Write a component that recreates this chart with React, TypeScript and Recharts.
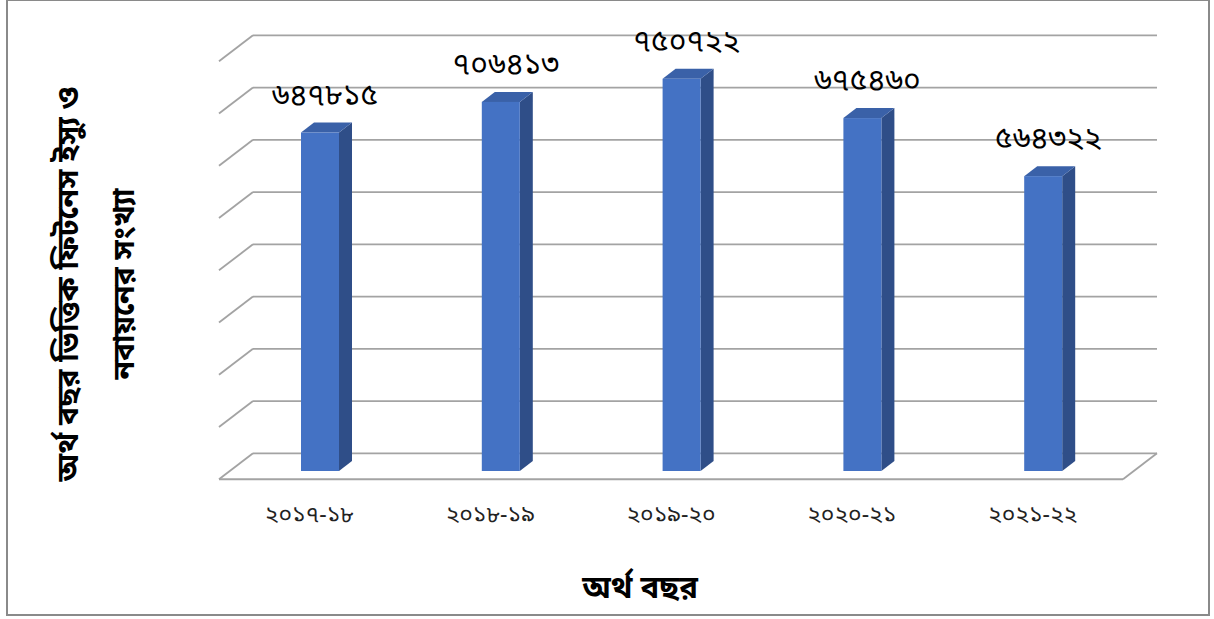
import React from 'react';
import { BarChart, Bar, XAxis, YAxis, CartesianGrid, LabelList } from 'recharts';

const categories = ['২০১৭-১৮', '২০১৮-১৯', '২০১৯-২০', '২০২০-২১', '২০২১-২২'];
const values = [647815, 706413, 750722, 675460, 564322];
const yTicks = [0, 100000, 200000, 300000, 400000, 500000, 600000, 700000, 800000];
const xTitle = 'অর্থ বছর';
const yTitleLine1 = 'অর্থ বছর ভিত্তিক ফিটনেস ইস্যু ও';
const yTitleLine2 = 'নবায়নের সংখ্যা';

const data = categories.map((c, i) => ({ name: c, value: values[i] }));

const W = 1214;
const H = 619;
const MARGIN = { top: 53, right: 80, bottom: 88, left: 230 };
const XAXIS_H = 60;
const PLOT_BOTTOM = H - MARGIN.bottom - XAXIS_H;

const BACK_DX = 23;
const BACK_DY = -17.7;
const FRONT_DX = -11;
const FRONT_DY = 8.3;
const GRID = '#a3a3a3';
const FONT = '"Noto Sans Bengali", "Lohit Bengali", "Noto Serif Bengali", "Vrinda", sans-serif';

const bn = (n: number) => String(n).replace(/[0-9]/g, (d) => '০১২৩৪৫৬৭৮৯'[Number(d)]);

const GridLine = (props: any) => {
  const { x1, x2, y1 } = props;
  const bx1 = x1 + BACK_DX, bx2 = x2 + BACK_DX, by = y1 + BACK_DY;
  const fx1 = x1 + FRONT_DX, fx2 = x2 + FRONT_DX, fy = y1 + FRONT_DY;
  const isBottom = Math.abs(y1 - PLOT_BOTTOM) < 1;
  return (
    <g key={props.key}>
      <line x1={bx1} y1={by} x2={bx2} y2={by} stroke={GRID} strokeWidth={1.8} />
      <line x1={bx1} y1={by} x2={fx1} y2={fy} stroke={GRID} strokeWidth={1.8} />
      {isBottom && (
        <>
          <line x1={fx1} y1={fy} x2={fx2} y2={fy} stroke={GRID} strokeWidth={2} />
          <line x1={bx2} y1={by} x2={fx2} y2={fy} stroke={GRID} strokeWidth={1.8} />
        </>
      )}
    </g>
  );
};

const Bar3D = (props: any) => {
  const { x, y, width, height } = props;
  const dx = 13, dy = -10;
  return (
    <g>
      <polygon
        points={`${x + width},${y} ${x + width + dx},${y + dy} ${x + width + dx},${y + height + dy} ${x + width},${y + height}`}
        fill="#2F4E88"
      />
      <polygon
        points={`${x},${y} ${x + dx},${y + dy} ${x + width + dx},${y + dy} ${x + width},${y}`}
        fill="#3A61A8"
      />
      <rect x={x} y={y} width={width} height={height} fill="#4472C4" />
    </g>
  );
};

const ValueLabel = (props: any) => {
  const { x, y, width, value } = props;
  return (
    <text x={x + width / 2 + 5} y={y - 36} textAnchor="middle" dominantBaseline="central"
      fontFamily={FONT} fontSize={30} fill="#000">
      {bn(value)}
    </text>
  );
};

const Tick = (props: any) => {
  const { x, y, payload } = props;
  return (
    <text x={x - 11} y={y + 37} textAnchor="middle" dominantBaseline="central"
      fontFamily={FONT} fontSize={23} fill="#222">
      {payload.value}
    </text>
  );
};

export default function App() {
  return (
    <div style={{ position: 'absolute', left: 0, top: 0, width: W, height: H, background: '#fff' }}>
      <div style={{ position: 'absolute', left: 6, top: -1, width: 1204, height: 617, borderLeft: '2px solid #8a8a8a', borderRight: '2px solid #8a8a8a', borderBottom: '2px solid #8a8a8a', borderTop: '2px solid #8a8a8a', boxSizing: 'border-box' }} />
      <BarChart width={W} height={H} data={data} margin={MARGIN} barCategoryGap={0}>
        <CartesianGrid vertical={false} horizontal={GridLine} stroke={GRID} />
        <XAxis dataKey="name" axisLine={false} tickLine={false} height={XAXIS_H} tick={Tick} interval={0} />
        <YAxis hide domain={[0, 800000]} ticks={yTicks} />
        <Bar dataKey="value" barSize={38} shape={Bar3D} isAnimationActive={false}>
          <LabelList dataKey="value" content={ValueLabel} />
        </Bar>
      </BarChart>
      <svg width={W} height={H} style={{ position: 'absolute', left: 0, top: 0, pointerEvents: 'none' }}>
        <text x={640} y={590} textAnchor="middle" dominantBaseline="central" fontFamily={FONT}
          fontSize={31} fontWeight="bold" fill="#000">{xTitle}</text>
        <text transform="translate(70,284) rotate(-90)" textAnchor="middle" dominantBaseline="central"
          fontFamily={FONT} fontSize={30} fontWeight="bold" fill="#000">{yTitleLine1}</text>
        <text transform="translate(126,284) rotate(-90)" textAnchor="middle" dominantBaseline="central"
          fontFamily={FONT} fontSize={30} fontWeight="bold" fill="#000">{yTitleLine2}</text>
      </svg>
    </div>
  );
}
